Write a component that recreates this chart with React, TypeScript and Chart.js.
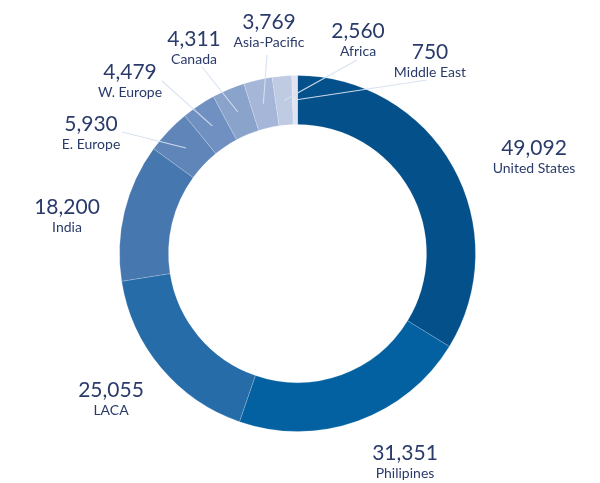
import React, { useEffect, useRef } from "react";
import { Chart, registerables } from "chart.js";

Chart.register(...registerables);

const regions = [
  "United States",
  "Philipines",
  "LACA",
  "India",
  "E. Europe",
  "W. Europe",
  "Canada",
  "Asia-Pacific",
  "Africa",
  "Middle East",
];
const headcount = [49092, 31351, 25055, 18200, 5930, 4479, 4311, 3769, 2560, 750];
const sliceColors = [
  "#04508a",
  "#0461a1",
  "#266ca8",
  "#4677ae",
  "#5f85b9",
  "#7190c2",
  "#8aa3cb",
  "#a5b6d8",
  "#bfcae3",
  "#dfe4f0",
];

// layout: centre of the value text, as offset from the doughnut centre
const labelOffsets: [number, number][] = [
  [236.5, -105.5],
  [107.5, 199.5],
  [-186.5, 136.5],
  [-230.5, -46.5],
  [-206.5, -129],
  [-167.5, -181],
  [-103.5, -214],
  [-28.5, -231],
  [60.5, -222],
  [132.5, -201],
];
// layout: start of leader line, relative to the value text centre
const leaderStarts: ([number, number] | null)[] = [
  null,
  null,
  null,
  null,
  [31, 7.5],
  [32, 8.5],
  [8, 27.5],
  [-2, 32.5],
  [-1, 28.5],
  [-3, 27.5],
];

const TEXT_COLOR = "#2a3b6b";
const FONT = "Lato, 'Open Sans', sans-serif";

const labelPlugin = {
  id: "outerLabels",
  afterDatasetsDraw(chart: any) {
    const meta = chart.getDatasetMeta(0);
    const ctx = chart.ctx as CanvasRenderingContext2D;
    ctx.save();
    meta.data.forEach((arc: any, i: number) => {
      const cx = arc.x;
      const cy = arc.y;
      const [dx, dy] = labelOffsets[i];
      const tx = cx + dx;
      const ty = cy + dy;
      const ls = leaderStarts[i];
      if (ls) {
        const end = arc.getCenterPoint();
        ctx.beginPath();
        ctx.moveTo(tx + ls[0], ty + ls[1]);
        ctx.lineTo(end.x, end.y);
        ctx.strokeStyle = "rgba(214,224,240,0.95)";
        ctx.lineWidth = 1.1;
        ctx.stroke();
      }
      ctx.fillStyle = TEXT_COLOR;
      ctx.textAlign = "center";
      ctx.textBaseline = "middle";
      ctx.font = `400 21px ${FONT}`;
      ctx.fillText(headcount[i].toLocaleString("en-US"), tx, ty);
      ctx.font = `400 14px ${FONT}`;
      ctx.fillText(regions[i], tx, ty + 20);
    });
    ctx.restore();
  },
};

export default function App() {
  const ref = useRef<HTMLCanvasElement | null>(null);
  useEffect(() => {
    if (!ref.current) return;
    const chart = new Chart(ref.current, {
      type: "doughnut",
      data: {
        labels: regions,
        datasets: [
          {
            data: headcount,
            backgroundColor: sliceColors,
            borderColor: "rgba(255,255,255,0.18)",
            borderWidth: 1,
          },
        ],
      },
      options: {
        responsive: false,
        animation: false,
        cutout: "72.5%",
        layout: { padding: { top: 75, bottom: 51, left: 119, right: 124 } },
        plugins: {
          legend: { display: false },
          tooltip: { enabled: false },
        },
      },
      plugins: [labelPlugin],
    });
    return () => chart.destroy();
  }, []);
  return (
    <div style={{ position: "absolute", left: 0, top: 0, width: 600, height: 483, background: "#fff" }}>
      <canvas ref={ref} width={600} height={483} />
    </div>
  );
}
